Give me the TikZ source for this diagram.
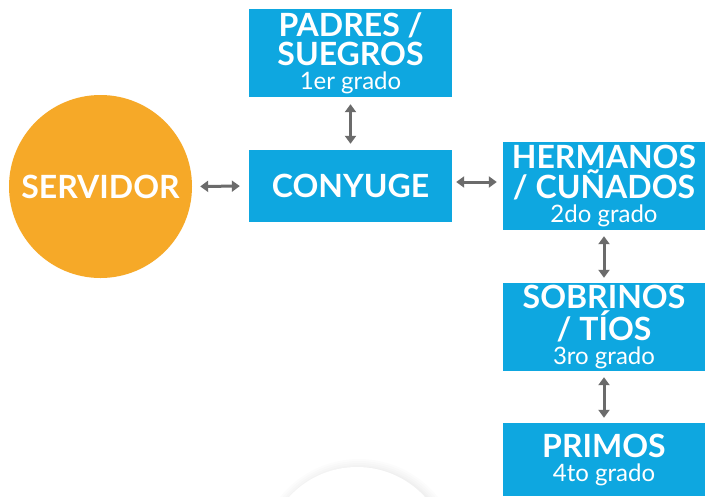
\documentclass[tikz,border=0pt]{standalone}
\usepackage{fontspec}
\setmainfont{Lato}
\usetikzlibrary{arrows.meta,calc}
\definecolor{boxblue}{HTML}{0EA7E0}
\definecolor{servorange}{HTML}{F6A928}
\definecolor{arrgray}{HTML}{6B6B6B}
\tikzset{
  blbox/.style={fill=boxblue, draw=none, text=white, align=center, inner sep=0pt,
    minimum width=203pt, font=\bfseries\fontsize{32}{29}\selectfont},
  arr/.style={draw=arrgray, line width=3pt,
    {Triangle[width=11pt,length=8pt]}-{Triangle[width=11pt,length=8pt]}}
}
\newcommand{\gr}[1]{{\mdseries\fontsize{24}{22}\selectfont #1}}
\begin{document}
\begin{tikzpicture}[x=1pt,y=-1pt]
\useasboundingbox (0,0) rectangle (712,496);
\fill[white] (0,0) rectangle (712,496);
% faint bottom circle with shadow
\begin{scope}
\clip (0,0) rectangle (712,496);
\foreach \k in {9,7,5,3,1.5} {
  \fill[black, opacity=0.012] (359,560) circle ({92+\k});
}
\fill[white] (357,559) circle (92);
\end{scope}
\node[circle, fill=servorange, minimum size=183pt, inner sep=0pt, text=white,
  font=\bfseries\fontsize{32}{29}\selectfont] (ser) at (100.5,186.5) {SERVIDOR};
\node[blbox, minimum height=88pt] (pad) at (350.5,53)
  {PADRES /\\ SUEGROS\\[-5pt] \gr{1er grado}};
\node[blbox, minimum height=72pt] (con) at (350.5,186) {CONYUGE};
\node[blbox, minimum width=202pt, minimum height=88pt] (her) at (604,186)
  {HERMANOS\\ / CUÑADOS\\[-5pt] \gr{2do grado}};
\node[blbox, minimum width=202pt, minimum height=88pt] (sob) at (604,327)
  {SOBRINOS\\ / TÍOS\\[-5pt] \gr{3ro grado}};
\node[blbox, minimum width=202pt, minimum height=73pt] (pri) at (604,459.5)
  {PRIMOS\\[-5pt] \gr{4to grado}};
\draw[arr, shorten <=7pt, shorten >=6pt] (pad) -- (con);
\draw[arr, shorten <=8pt, shorten >=9pt] (ser.east) -- (con.west);
\draw[arr, shorten <=4pt, shorten >=6pt] ([yshift=4pt]con.east) -- ([yshift=4pt]her.west);
\draw[arr, shorten <=6pt, shorten >=5pt] (her) -- (sob);
\draw[arr, shorten <=6pt, shorten >=5pt] (sob) -- (pri);
\end{tikzpicture}
\end{document}
